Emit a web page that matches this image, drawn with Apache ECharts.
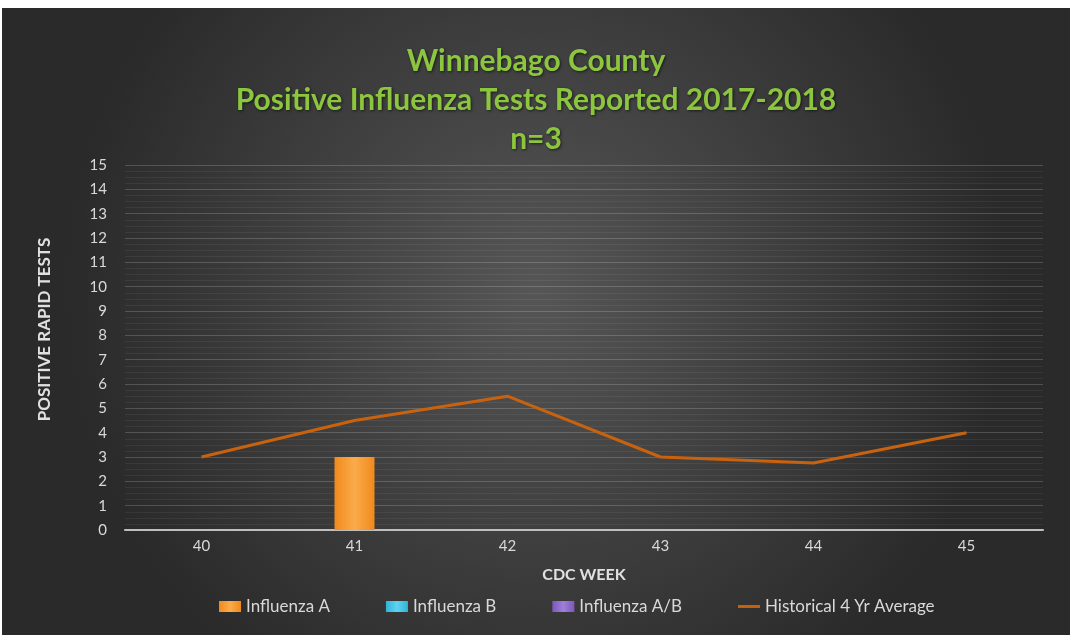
<!DOCTYPE html>
<html><head><meta charset="utf-8">
<script src="https://cdn.jsdelivr.net/npm/echarts@6/dist/echarts.min.js"></script>
<style>html,body{margin:0;padding:0;background:#fff;width:1073px;height:635px;overflow:hidden}
#c{position:absolute;left:2px;top:8px;width:1068px;height:627px}</style></head>
<body><div id="c"></div>
<script>
const weeks = ['40','41','42','43','44','45'];
const influenzaA = [0,3,0,0,0,0];
const influenzaB = [0,0,0,0,0,0];
const influenzaAB = [0,0,0,0,0,0];
const historicalAvg = [3,4.5,5.5,3,2.75,4];
const titleLines = ['Winnebago County','Positive Influenza Tests Reported 2017-2018','n=3'];

const chart = echarts.init(document.getElementById('c'));
const font = 'Lato, "Open Sans", sans-serif';
const barGrad = (c1,c2)=>({type:'linear',x:0,y:0,x2:1,y2:0,colorStops:[{offset:0,color:c1},{offset:0.5,color:c2},{offset:1,color:c1}]});
chart.setOption({
  backgroundColor:{type:'radial',x:0.5,y:0.45,r:0.75,colorStops:[{offset:0,color:'#565656'},{offset:1,color:'#2a2a2a'}]},
  title:{text:titleLines.join('\n'),left:'center',top:29,
    textStyle:{color:'#8cc63f',fontSize:30,fontWeight:'bold',fontFamily:font,lineHeight:39,
      textShadowColor:'rgba(0,0,0,0.6)',textShadowBlur:3,textShadowOffsetX:1,textShadowOffsetY:1}},
  legend:{bottom:15,left:212,itemWidth:22,itemHeight:11,itemGap:56,
    textStyle:{color:'#d9d9d9',fontSize:17,fontFamily:font},
    data:[{name:'Influenza A',icon:'rect'},{name:'Influenza B',icon:'rect'},{name:'Influenza A/B',icon:'rect'},
      {name:'Historical 4 Yr Average',icon:'path://M0,0 H30 V4 H0 Z'}]},
  grid:{left:123,right:27,top:157,bottom:105},
  xAxis:{type:'category',data:weeks,name:'CDC WEEK',nameLocation:'middle',nameGap:37,
    nameTextStyle:{color:'#e0e0e0',fontSize:16,fontWeight:'bold',fontFamily:font},
    axisLine:{lineStyle:{color:'#bfbfbf',width:2}},axisTick:{show:false},
    axisLabel:{color:'#d9d9d9',fontSize:15,fontFamily:font,margin:9}},
  yAxis:{type:'value',min:0,max:15,interval:1,name:'POSITIVE RAPID TESTS',nameLocation:'middle',nameGap:72,
    nameTextStyle:{color:'#e0e0e0',fontSize:17,fontWeight:'bold',fontFamily:font,padding:[0,0,0,36]},
    axisLine:{show:false},axisTick:{show:false},
    axisLabel:{color:'#d9d9d9',fontSize:15,fontFamily:font,margin:18},
    splitLine:{lineStyle:{color:'rgba(255,255,255,0.18)',width:1}},
    minorSplitLine:{show:true,lineStyle:{color:'rgba(255,255,255,0.06)'}},minorTick:{show:false,splitNumber:4}},
  series:[
    {name:'Influenza A',type:'bar',stack:'t',barWidth:40,data:influenzaA,itemStyle:{color:barGrad('#f08a1c','#fbab4a')}},
    {name:'Influenza B',type:'bar',stack:'t',data:influenzaB,itemStyle:{color:barGrad('#2fb3d8','#5fd3f0')}},
    {name:'Influenza A/B',type:'bar',stack:'t',data:influenzaAB,itemStyle:{color:barGrad('#7a58b8','#9f80d8')}},
    {name:'Historical 4 Yr Average',type:'line',data:historicalAvg,symbol:'none',
      lineStyle:{color:'#c8620f',width:3},itemStyle:{color:'#c8620f'}}
  ]
});
</script></body></html>
